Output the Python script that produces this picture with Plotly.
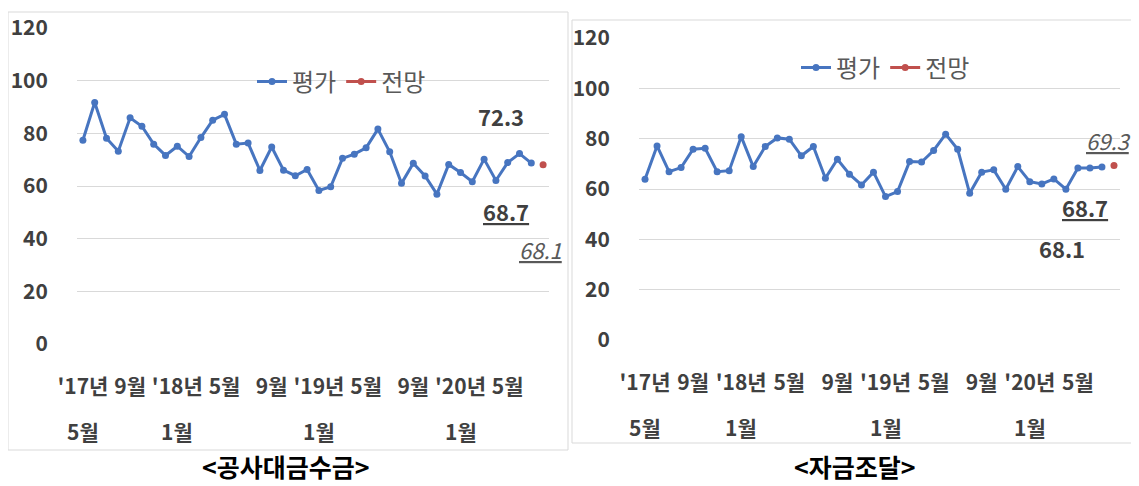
import plotly.graph_objects as go
import pandas as pd

# ---------------- data ----------------
months = list(pd.period_range("2017-05", "2020-08", freq="M").strftime("%Y-%m"))
eval_months = months[:-1]
fc_month = months[-1:]

pay_eval = [77.4, 91.7, 78.1, 73.2, 85.9, 82.7, 75.9, 71.6, 75.1, 71.2,
            78.4, 85.0, 87.2, 75.9, 76.3, 65.9, 74.8, 66.0, 63.9, 66.3,
            58.3, 59.7, 70.5, 72.1, 74.5, 81.6, 73.0, 61.0, 68.6, 63.8,
            56.9, 68.2, 65.1, 61.6, 70.2, 62.1, 68.9, 72.3, 68.7]
pay_fc = [68.1]

fund_eval = [63.9, 77.1, 66.9, 68.5, 75.8, 76.2, 66.9, 67.3, 80.8, 68.9,
             76.9, 80.3, 79.8, 73.2, 76.9, 64.3, 71.8, 65.9, 61.6, 66.7,
             57.0, 59.0, 70.9, 70.7, 75.3, 81.8, 75.8, 58.3, 66.7, 67.6,
             59.9, 68.9, 62.9, 62.0, 64.0, 59.9, 68.3, 68.3, 68.7]
fund_fc = [69.3]

tick_months = months[0:37:4]
tick_row1 = ["'17년", "9월", "'18년", "5월", "9월", "'19년", "5월", "9월", "'20년", "5월"]
tick_row2 = ["5월", "", "1월", "", "", "1월", "", "", "1월", ""]

series_names = ["평가", "전망"]
titles = ["&lt;공사대금수금&gt;", "&lt;자금조달&gt;"]

# ---------------- style ----------------
# the page body has an 8px default margin: the figure is shrunk by it so
# that everything lands where it is in the 1139x486 reference window
OFF = 8
W, H = 1139 - OFF, 486 - OFF
BLUE = "#4775C0"
RED = "#C0504D"
TICK_COL = "#404040"
GRID = "#D9D9D9"
FONT = "Noto Sans CJK KR"


def px(x):
    return (x - OFF) / W


def py(y):
    return 1 - (y - OFF) / H


fig = go.Figure()

panels = [
    dict(ev=pay_eval, fc=pay_fc, xa="x", ya="y", legend="legend",
         xdom=(px(77), px(549)), ydom=(py(344), py(28))),
    dict(ev=fund_eval, fc=fund_fc, xa="x2", ya="y2", legend="legend2",
         xdom=(px(639), px(1120)), ydom=(py(340), py(38))),
]

for p in panels:
    fig.add_trace(go.Scatter(
        x=eval_months, y=p["ev"], mode="lines+markers", name=series_names[0],
        line=dict(color=BLUE, width=3), marker=dict(color=BLUE, size=7),
        xaxis=p["xa"], yaxis=p["ya"], legend=p["legend"]))
    fig.add_trace(go.Scatter(
        x=fc_month, y=p["fc"], mode="lines+markers", name=series_names[1],
        line=dict(color=RED, width=3), marker=dict(color=RED, size=7),
        xaxis=p["xa"], yaxis=p["ya"], legend=p["legend"]))

axis_common_x = dict(
    type="category", categoryorder="array", categoryarray=months,
    range=[-0.5, len(months) - 0.5], tickmode="array",
    tickvals=tick_months, ticktext=tick_row1, tickangle=0,
    ticks="outside", ticklen=24, tickcolor="rgba(0,0,0,0)",
    tickfont=dict(family=FONT, size=21, color=TICK_COL, weight="bold"),
    showgrid=False, showline=False, zeroline=False, automargin=False,
)
axis_common_y = dict(
    range=[0, 120], dtick=20, tick0=0, showgrid=True, gridcolor=GRID,
    gridwidth=1, zeroline=False, showline=False,
    ticks="outside", ticklen=24, tickcolor="rgba(0,0,0,0)",
    tickfont=dict(family=FONT, size=21, color=TICK_COL, weight="bold"),
    automargin=False,
)

fig.update_layout(
    width=W, height=H, margin=dict(l=0, r=0, t=0, b=0, autoexpand=False),
    paper_bgcolor="white", plot_bgcolor="white",
    xaxis=dict(domain=panels[0]["xdom"], anchor="y", **axis_common_x),
    yaxis=dict(domain=panels[0]["ydom"], anchor="x", **axis_common_y),
    xaxis2=dict(domain=panels[1]["xdom"], anchor="y2", **axis_common_x),
    yaxis2=dict(domain=panels[1]["ydom"], anchor="x2", **axis_common_y),
    legend=dict(orientation="h", x=px(252), y=py(82), xanchor="left", yanchor="middle",
                font=dict(family=FONT, size=24, color="#595959"),
                bgcolor="rgba(0,0,0,0)", itemwidth=30, tracegroupgap=0),
    legend2=dict(orientation="h", x=px(796), y=py(68), xanchor="left", yanchor="middle",
                 font=dict(family=FONT, size=24, color="#595959"),
                 bgcolor="rgba(0,0,0,0)", itemwidth=30, tracegroupgap=0),
    showlegend=True,
)

# panel borders
for (x0, y0, x1, y1) in [(8, 12, 568, 450), (572, 20, 1138, 443)]:
    fig.add_shape(type="rect", xref="paper", yref="paper",
                  x0=px(x0), x1=px(x1), y0=py(y1), y1=py(y0),
                  line=dict(color=GRID, width=1), fillcolor="rgba(0,0,0,0)", layer="below")

# second row of x tick labels
for p in panels:
    ax = p["xa"]
    base = p["ydom"][0]
    for m, t in zip(tick_months, tick_row2):
        if t:
            fig.add_annotation(x=m, y=base, xref=ax, yref="paper", text=t,
                               showarrow=False, yanchor="top", yshift=-70,
                               font=dict(family=FONT, size=21, color=TICK_COL, weight="bold"))

# data labels
lab_bold = dict(family=FONT, size=22, color=TICK_COL, weight="bold")
lab_ital = dict(family=FONT, size=22, color="#595959", style="italic")
labels = [
    ("x", "y", eval_months[-2], pay_eval[-2], f"{pay_eval[-2]}", lab_bold, -19, 38),
    ("x", "y", eval_months[-1], pay_eval[-1], f"<u>{pay_eval[-1]}</u>", lab_bold, -25, -48),
    ("x", "y", fc_month[0], pay_fc[0], f"<u>{pay_fc[0]}</u>", lab_ital, -3, -84),
    ("x2", "y2", fc_month[0], fund_fc[0], f"<u>{fund_fc[0]}</u>", lab_ital, -5, 26),
    ("x2", "y2", eval_months[-1], fund_eval[-1], f"<u>{fund_eval[-1]}</u>", lab_bold, -17, -40),
    ("x2", "y2", eval_months[-1], fund_eval[-1], f"{pay_fc[0]}", lab_bold, -40, -81),
]
for xa, ya, xv, yv, txt, f, dx, dy in labels:
    fig.add_annotation(x=xv, y=yv, xref=xa, yref=ya, text=txt, showarrow=False,
                       xshift=dx, yshift=dy, font=f)

# titles
for cx, t in zip([286, 855], titles):
    fig.add_annotation(x=px(cx), y=py(466), xref="paper", yref="paper", text=t,
                       showarrow=False, xanchor="center", yanchor="middle",
                       font=dict(family=FONT, size=25, color="black", weight="bold"))

fig.write_html("out.html")
